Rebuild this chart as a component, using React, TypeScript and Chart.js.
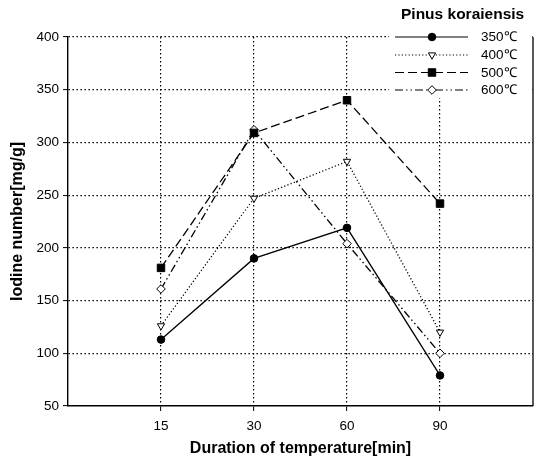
import React, { useEffect, useRef } from "react";
import { Chart, registerables } from "chart.js";

Chart.register(...registerables);

const categories = ["15", "30", "60", "90"];
const series350 = [113, 190, 219, 79];
const series400 = [126, 247, 282, 120];
const series500 = [181, 309, 340, 242];
const series600 = [161, 312, 204, 100];
const yTicks = [50, 100, 150, 200, 250, 300, 350, 400];
const legendTitle = "Pinus koraiensis";
const seriesLabels = ["350\u2103", "400\u2103", "500\u2103", "600\u2103"];

const FONT = "'Liberation Sans', Arial, sans-serif";

type Style = {
  dash: number[];
  point: "circle" | "triangle" | "rect" | "rectRot";
  fill: string;
  radius: number;
  rotation: number;
};

const styles: Style[] = [
  { dash: [], point: "circle", fill: "#000", radius: 3.8, rotation: 0 },
  { dash: [1.2, 2.2], point: "triangle", fill: "#fff", radius: 4.2, rotation: 180 },
  { dash: [9, 4], point: "rect", fill: "#000", radius: 5.3, rotation: 0 },
  { dash: [8, 3, 1.5, 3, 1.5, 3], point: "rectRot", fill: "#fff", radius: 4.3, rotation: 0 },
];

function drawMarker(ctx: CanvasRenderingContext2D, s: Style, x: number, y: number) {
  ctx.save();
  ctx.setLineDash([]);
  ctx.fillStyle = s.fill;
  ctx.strokeStyle = "#000";
  ctx.lineWidth = 1;
  ctx.beginPath();
  const r = s.radius;
  if (s.point === "circle") {
    ctx.arc(x, y, r, 0, Math.PI * 2);
  } else if (s.point === "rect") {
    const h = r * Math.SQRT1_2;
    ctx.rect(x - h, y - h, 2 * h, 2 * h);
  } else if (s.point === "rectRot") {
    ctx.moveTo(x, y - r);
    ctx.lineTo(x + r, y);
    ctx.lineTo(x, y + r);
    ctx.lineTo(x - r, y);
    ctx.closePath();
  } else {
    const w = r * 0.866;
    ctx.moveTo(x - w, y - r * 0.5);
    ctx.lineTo(x + w, y - r * 0.5);
    ctx.lineTo(x, y + r);
    ctx.closePath();
  }
  ctx.fill();
  ctx.stroke();
  ctx.restore();
}

const customPlugin = {
  id: "customDecor",
  afterDraw(chart: any) {
    const ctx: CanvasRenderingContext2D = chart.ctx;
    const area = chart.chartArea;
    ctx.save();
    ctx.fillStyle = "#fff";
    ctx.fillRect(389, 28, area.right - 390, 70);
    ctx.strokeStyle = "#000";
    ctx.lineWidth = 1.3;
    ctx.setLineDash([]);
    ctx.beginPath();
    ctx.moveTo(area.right, area.top);
    ctx.lineTo(area.right, area.bottom);
    ctx.stroke();
    ctx.fillStyle = "#000";
    ctx.font = `bold 15.5px ${FONT}`;
    ctx.textBaseline = "middle";
    ctx.textAlign = "left";
    ctx.fillText(legendTitle, 401, 15);
    const rows = [37, 55, 72.5, 90];
    ctx.font = `13.5px ${FONT}`;
    styles.forEach((s, i) => {
      const y = rows[i];
      ctx.save();
      ctx.strokeStyle = "#000";
      ctx.lineWidth = 1.2;
      ctx.setLineDash(s.dash);
      ctx.beginPath();
      ctx.moveTo(395, y);
      ctx.lineTo(468, y);
      ctx.stroke();
      ctx.restore();
      drawMarker(ctx, s, 432, y);
      ctx.fillStyle = "#000";
      ctx.fillText(seriesLabels[i], 481, y + 0.5);
    });
    ctx.restore();
  },
};

const allSeries = [series350, series400, series500, series600];

export default function App() {
  const ref = useRef<HTMLCanvasElement | null>(null);
  useEffect(() => {
    document.body.style.margin = "0";
    const canvas = ref.current!;
    const chart = new Chart(canvas, {
      type: "line",
      data: {
        datasets: allSeries.map((vals, i) => ({
          label: seriesLabels[i],
          data: vals.map((v, k) => ({ x: k + 1, y: v })),
          borderColor: "#000",
          borderWidth: 1.3,
          borderDash: styles[i].dash,
          pointStyle: styles[i].point,
          pointRadius: styles[i].radius,
          pointRotation: styles[i].rotation,
          pointBackgroundColor: styles[i].fill,
          pointBorderColor: "#000",
          pointBorderWidth: 1,
          fill: false,
          tension: 0,
        })),
      },
      options: {
        animation: false,
        responsive: false,
        maintainAspectRatio: false,
        layout: { padding: { left: 0, top: 37, right: 7, bottom: 0 } },
        plugins: { legend: { display: false }, tooltip: { enabled: false } },
        scales: {
          x: {
            type: "linear",
            min: 0,
            max: 5,
            afterBuildTicks: (scale: any) => {
              scale.ticks = categories.map((_, k) => ({ value: k + 1 }));
            },
            afterFit: (scale: any) => {
              scale.height = 57;
            },
            ticks: {
              autoSkip: false,
              maxRotation: 0,
              color: "#000",
              font: { family: FONT, size: 13.5 },
              padding: 7,
              callback: (v: any) => categories[Number(v) - 1] ?? "",
            },
            grid: {
              color: "#000",
              lineWidth: 1.2,
              drawTicks: true,
              tickLength: 5,
              tickColor: "#000",
              tickWidth: 1,
            },
            border: { display: true, color: "#000", width: 1.4, dash: [1.5, 2.5] },
            title: {
              display: true,
              text: "Duration of temperature[min]",
              color: "#000",
              font: { family: FONT, size: 16, weight: "bold" },
              padding: { top: 0, bottom: 4.5 },
            },
          },
          y: {
            type: "linear",
            min: 50,
            max: 400,
            afterBuildTicks: (scale: any) => {
              scale.ticks = yTicks.map((v) => ({ value: v }));
            },
            afterFit: (scale: any) => {
              scale.width = 68;
            },
            ticks: {
              color: "#000",
              font: { family: FONT, size: 13.5 },
              padding: 4,
            },
            grid: {
              color: (c: any) => (c.tick && c.tick.value === 50 ? "rgba(0,0,0,0)" : "#000"),
              lineWidth: 1.2,
              drawTicks: true,
              tickLength: 5,
              tickColor: "#000",
              tickWidth: 1,
            },
            border: { display: true, color: "#000", width: 1.4, dash: [1.5, 2.5] },
            title: {
              display: true,
              text: "Iodine number[mg/g]",
              color: "#000",
              font: { family: FONT, size: 16, weight: "bold" },
              padding: { top: 7.5, bottom: 0 },
            },
          },
        },
      },
      plugins: [customPlugin],
    } as any);
    return () => chart.destroy();
  }, []);
  return (
    <div style={{ position: "absolute", left: 0, top: 0, width: 540, height: 463 }}>
      <canvas ref={ref} width={540} height={463} style={{ width: 540, height: 463 }} />
    </div>
  );
}
